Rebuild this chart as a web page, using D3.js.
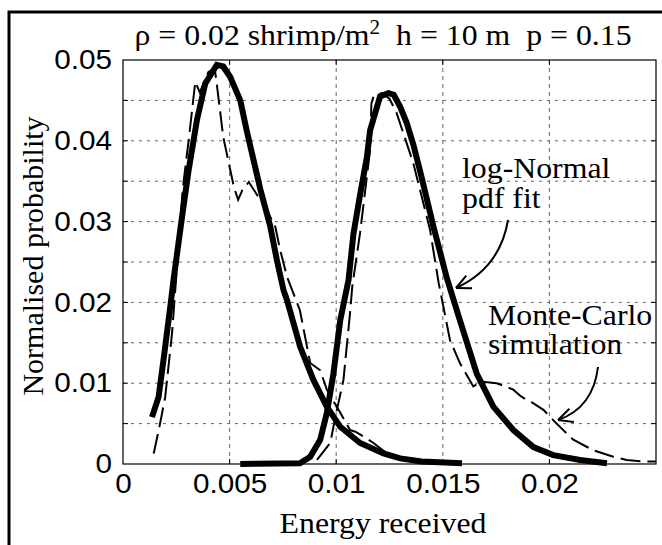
<!DOCTYPE html>
<html>
<head>
<meta charset="utf-8">
<script src="https://cdn.jsdelivr.net/npm/d3@7"></script>
<style>
  body { margin: 0; background: #fff; }
  svg { display: block; }
  .serif { font-family: "Liberation Serif", "Times New Roman", serif; }
  .tick text { font-family: "Liberation Sans", Arial, sans-serif; }
</style>
</head>
<body>
<div id="chart"></div>
<script>
// Energy received vs normalised probability
const fitLeft = [
  [0.00136, 0.0058], [0.00167, 0.0083], [0.0019, 0.0129], [0.00222, 0.0195],
  [0.00237, 0.0228], [0.00277, 0.0306], [0.00308, 0.0364], [0.00347, 0.0426],
  [0.00386, 0.0471], [0.0044, 0.0494], [0.0047, 0.0492], [0.00503, 0.0479],
  [0.0055, 0.045], [0.0058, 0.0413], [0.00644, 0.034], [0.0069, 0.0295],
  [0.00722, 0.0252], [0.00753, 0.0215], [0.00769, 0.0203], [0.00831, 0.0145],
  [0.00893, 0.0104], [0.00956, 0.0071], [0.01019, 0.0046], [0.01112, 0.0026],
  [0.01222, 0.0013], [0.013, 0.0007], [0.014, 0.0003], [0.0159, 0.0001]
]
const mcLeft = [
  [0.00144, 0.0013], [0.0017, 0.0045], [0.00198, 0.0083], [0.0023, 0.0162],
  [0.00255, 0.025], [0.0028, 0.034], [0.0031, 0.0405], [0.00339, 0.0473],
  [0.0036, 0.046], [0.004, 0.0485], [0.0043, 0.049], [0.0044, 0.047],
  [0.0047, 0.0405], [0.0052, 0.0343], [0.0054, 0.0327], [0.0056, 0.0339],
  [0.0059, 0.0349], [0.00675, 0.0314], [0.00714, 0.0294], [0.00737, 0.0265],
  [0.00769, 0.0232], [0.0083, 0.019], [0.00878, 0.0125], [0.00925, 0.0116],
  [0.00956, 0.0092], [0.0102, 0.0063], [0.01065, 0.0042], [0.0109, 0.004],
  [0.01128, 0.0034], [0.01175, 0.0026], [0.01238, 0.0013], [0.0135, 0.0005],
  [0.015, 0.0002]
]
const fitRight = [
  [0.0055, 0], [0.0083, 0.0001], [0.00878, 0.0009], [0.00925, 0.003],
  [0.00956, 0.0063], [0.00987, 0.0112], [0.01019, 0.0178], [0.01058, 0.0228],
  [0.01081, 0.0285], [0.0111, 0.033], [0.01144, 0.038], [0.01159, 0.0413],
  [0.01206, 0.0455], [0.01245, 0.0459], [0.0127, 0.0457], [0.013, 0.0442],
  [0.01331, 0.0422], [0.01362, 0.0395], [0.01394, 0.0362], [0.01456, 0.0294],
  [0.01519, 0.023], [0.0158, 0.0178], [0.01659, 0.0112], [0.01737, 0.0071],
  [0.01831, 0.0042], [0.01925, 0.0021], [0.02018, 0.0011], [0.02144, 0.0005],
  [0.0227, 0.0001]
]
const mcRight = [
  [0.0091, 0.0005], [0.00972, 0.0026], [0.01, 0.0063], [0.01034, 0.0104],
  [0.01065, 0.0187], [0.01075, 0.0219], [0.01112, 0.0286], [0.01159, 0.0389],
  [0.01165, 0.0446], [0.01175, 0.0455], [0.01214, 0.0459], [0.0125, 0.0452],
  [0.01284, 0.0434], [0.01362, 0.0372], [0.0144, 0.029], [0.0148, 0.0225],
  [0.01534, 0.0153], [0.0158, 0.0125], [0.01643, 0.0096], [0.0168, 0.0102],
  [0.01753, 0.01], [0.01831, 0.0092], [0.0186, 0.0085], [0.01894, 0.0079],
  [0.0192, 0.0076], [0.01972, 0.0067], [0.02034, 0.005], [0.02112, 0.003],
  [0.02206, 0.0017], [0.023, 0.0009], [0.02362, 0.0005], [0.0244, 0.0003],
  [0.025, 0.0003]
]

const xTicks = [0, 0.005, 0.01, 0.015, 0.02]
const xTickLabels = ['0', '0.005', '0.01', '0.015', '0.02']
const yTicks = [0, 0.01, 0.02, 0.03, 0.04, 0.05]
const yTickLabels = ['0', '0.01', '0.02', '0.03', '0.04', '0.05']
const xGrid = [0.005, 0.01, 0.015, 0.02]
const yGrid = [0.005, 0.01, 0.015, 0.02, 0.025, 0.03, 0.035, 0.04, 0.045]

const W = 662
const H = 545
const plotLeft = 123
const plotRight = 656
const plotTop = 60
const plotBottom = 464
const stretch = 1.06 // the scanned figure is a little wider than tall

const svg = d3.select('#chart').append('svg')
  .attr('width', W)
  .attr('height', H)

// outer frame (runs off the bottom / right of the picture)
svg.append('rect')
  .attr('x', 9).attr('y', 12)
  .attr('width', 700).attr('height', 600)
  .attr('fill', 'none')
  .attr('stroke', '#000')
  .attr('stroke-width', 3)

const x = d3.scaleLinear().domain([0, 0.025]).range([plotLeft, plotRight])
const y = d3.scaleLinear().domain([0, 0.05]).range([plotBottom, plotTop])

// dotted grid
const grid = svg.append('g').attr('stroke', '#666').attr('stroke-width', 1)
grid.selectAll('line.gx').data(xGrid).join('line')
  .attr('class', 'gx')
  .attr('stroke-dasharray', '4,4')
  .attr('x1', d => x(d)).attr('x2', d => x(d))
  .attr('y1', plotTop).attr('y2', plotBottom)
grid.selectAll('line.gy').data(yGrid).join('line')
  .attr('class', 'gy')
  .attr('stroke-dasharray', '3,5')
  .attr('x1', plotLeft).attr('x2', plotRight)
  .attr('y1', d => y(d)).attr('y2', d => y(d))

// inward ticks on all sides
const tickLen = 5
const ticks = svg.append('g').attr('stroke', '#000').attr('stroke-width', 1)
xGrid.forEach(v => {
  ticks.append('line').attr('x1', x(v)).attr('x2', x(v)).attr('y1', plotBottom).attr('y2', plotBottom - tickLen)
  ticks.append('line').attr('x1', x(v)).attr('x2', x(v)).attr('y1', plotTop).attr('y2', plotTop + tickLen)
})
yGrid.forEach(v => {
  ticks.append('line').attr('x1', plotLeft).attr('x2', plotLeft + tickLen).attr('y1', y(v)).attr('y2', y(v))
  ticks.append('line').attr('x1', plotRight).attr('x2', plotRight - tickLen).attr('y1', y(v)).attr('y2', y(v))
})

// tick labels via axes
const xAxis = d3.axisBottom(x)
  .tickValues(xTicks)
  .tickSize(0)
  .tickPadding(10)
  .tickFormat((d, i) => xTickLabels[i])
svg.append('g')
  .attr('transform', `translate(0,${plotBottom})`)
  .call(xAxis)
  .call(g => g.select('.domain').remove())
  .selectAll('text')
  .attr('font-size', 27)
  .attr('fill', '#000')
  .attr('transform', 'scale(1.1,1)')

const yAxis = d3.axisLeft(y)
  .tickValues(yTicks)
  .tickSize(0)
  .tickPadding(10)
  .tickFormat((d, i) => yTickLabels[i])
svg.append('g')
  .attr('transform', `translate(${plotLeft},0)`)
  .call(yAxis)
  .call(g => g.select('.domain').remove())
  .selectAll('text')
  .attr('font-size', 27)
  .attr('fill', '#000')
  .attr('transform', 'scale(1.1,1)')

// plot box
svg.append('rect')
  .attr('x', plotLeft).attr('y', plotTop)
  .attr('width', plotRight - plotLeft).attr('height', plotBottom - plotTop)
  .attr('fill', 'none')
  .attr('stroke', '#000')
  .attr('stroke-width', 1.2)

const line = d3.line()
  .x(d => x(d[0]))
  .y(d => y(d[1]))

// Monte-Carlo runs: dashed
;[mcLeft, mcRight].forEach(s => {
  svg.append('path')
    .datum(s)
    .attr('d', line)
    .attr('fill', 'none')
    .attr('stroke', '#000')
    .attr('stroke-width', 2)
    .attr('stroke-dasharray', '20,7')
})

// log-normal fits: thick
;[fitLeft, fitRight].forEach(s => {
  svg.append('path')
    .datum(s)
    .attr('d', line)
    .attr('fill', 'none')
    .attr('stroke', '#000')
    .attr('stroke-width', 6)
    .attr('stroke-linejoin', 'miter')
})

function serifText (x0, y0, anchor) {
  return svg.append('text')
    .attr('class', 'serif')
    .attr('transform', `translate(${x0},${y0}) scale(${stretch},1)`)
    .attr('text-anchor', anchor)
    .attr('font-size', 30)
    .style('white-space', 'pre')
}

// title
const title = serifText(383, 45, 'middle')
title.append('tspan').text('ρ = 0.02 shrimp/m')
title.append('tspan').attr('dy', -11).attr('font-size', 20).text('2')
title.append('tspan').attr('dy', 11).text('  h = 10 m  p = 0.15')

// axis titles
serifText(383, 533, 'middle').text('Energy received')

svg.append('text')
  .attr('class', 'serif')
  .attr('transform', 'translate(43,256) rotate(-90)')
  .attr('text-anchor', 'middle')
  .attr('font-size', 30)
  .text('Normalised probability')

// annotations
function note (lines, x0, y0, step) {
  lines.forEach((t, i) => serifText(x0, y0 + i * step, 'start').text(t))
}
note(['log-Normal', 'pdf fit'], 462, 178, 30)
note(['Monte-Carlo', 'simulation'], 488, 325, 29)

function arrow (p0, c, p1) {
  svg.append('path')
    .attr('d', `M${p0[0]},${p0[1]} Q${c[0]},${c[1]} ${p1[0]},${p1[1]}`)
    .attr('fill', 'none')
    .attr('stroke', '#000')
    .attr('stroke-width', 2)
  const ang = Math.atan2(p1[1] - c[1], p1[0] - c[0])
  const len = 16
  ;[-0.45, 0.45].forEach(a => {
    svg.append('line')
      .attr('x1', p1[0]).attr('y1', p1[1])
      .attr('x2', p1[0] - len * Math.cos(ang + a))
      .attr('y2', p1[1] - len * Math.sin(ang + a))
      .attr('stroke', '#000')
      .attr('stroke-width', 2)
  })
}
arrow([508, 220], [500, 268], [456, 288])
arrow([598, 367], [593, 408], [558, 420])
</script>
</body>
</html>
